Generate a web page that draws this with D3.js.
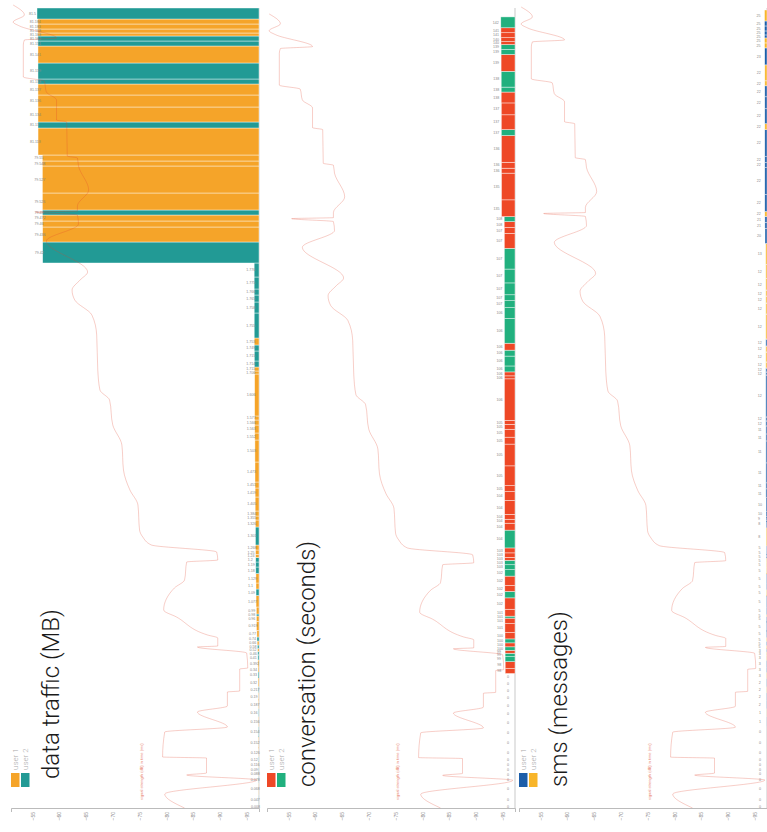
<!DOCTYPE html>
<html>
<head>
<meta charset="utf-8">
<script src="https://cdn.jsdelivr.net/npm/d3@7"></script>
<style>
  html, body { margin: 0; padding: 0; background: #fff; }
  svg { display: block; }
</style>
</head>
<body>
<svg id="chart" width="767" height="832"></svg>
<script>
// Session boundaries (time units from start of log), oldest first.
const sessionTimes = [0,3,13,25,32,36,40.5,46,51.5,60,71,81.5,91.5,99.5,108,115.5,121.5,130,136,141,
  148,153,156.5,159.5,163,167,171,177.5,186.5,192,194,201,212.5,219,225,234.5,241,246,250.5,253.5,
  258,263,281,288,292,297,311,320,326,346,368,375,383,388,392,434,437,441,447,457,463,470,495,506,
  513,519,531,545,566,581,587,593,598,615,642,647,653,680,686,701,713,724,729,745,762,767,772,775,
  779,784,789,800];

// Which user each session belongs to (1 or 2)
const sessionUser = [1,2,1,2,1,2,1,2,1,1,2,1,2,1,1,2,1,2,1,1,2,2,1,2,1,2,1,1,1,2,1,1,2,1,1,2,2,2,1,1,
  1,2,1,1,1,1,1,1,1,1,1,1,1,1,1,1,1,2,2,2,1,2,2,2,2,2,2,2,1,1,1,2,1,1,1,1,1,2,1,1,1,2,2,1,2,2,1,1,1,1,2];

// Cumulative totals reached at each session
const dataMB = [0.008,0.047,0.068,0.078,0.088,0.09,0.116,0.12,0.126,0.152,0.154,0.156,0.16,0.187,0.19,
  0.217,0.32,0.33,0.34,0.392,0.41,0.46,0.52,0.58,0.66,0.74,0.77,0.919,0.96,0.98,0.99,1.077,1.09,1.1,
  1.129,1.18,1.19,1.2,1.24,1.25,1.268,1.301,1.326,1.355,1.384,1.405,1.419,1.451,1.473,1.503,1.552,
  1.563,1.566,1.577,1.606,1.706,1.711,1.714,1.715,1.749,1.753,1.755,1.758,1.765,1.766,1.775,1.776,
  79.42,79.436,79.46,79.472,79.49,79.526,79.527,79.548,79.55,81.118,81.13,81.134,81.136,81.137,
  81.138,81.139,81.141,81.151,81.162,81.163,81.168,81.183,81.184,81.5];

const callSec = [0,0,0,0,0,0,0,0,0,0,0,0,0,0,0,0,0,0,
  98,98,99,99,99,100,100,100,100,101,101,101,101,102,102,102,102,102,103,103,103,103,103,104,104,
  104,104,104,104,105,105,105,105,105,105,105,106,106,106,106,106,106,106,106,106,107,107,107,107,
  107,107,107,108,108,
  135,135,136,136,136,137,137,137,138,138,138,139,139,139,140,140,141,141,142];

const smsCount = [0,0,0,0,0,0,0,0,0,0,0,1,1,2,2,2,2,3,3,3,3,3,3,
  5,5,5,5,5,5,5,5,5,5,5,5,5,5,5,5,5,5,
  8,8,9,10,10,11,11,11,11,11,11,12,12,12,12,12,12,12,12,12,12,12,12,12,12,12,
  13,20,21,21,22,22,22,22,22,22,22,22,22,22,22,22,23,25,25,25,25,25,25,25];

// Signal strength trace (dBm) over the same time axis
const signalTime = [0,14,28,33,35,50,51,76,81,96,102,116,117,139,140,155,161,162,170,173,
  191,198,220,228,246,248,256,263,271,278,303,318,338,363,383,408,418,438,473,493,
  508,518,528,536,567,584,593,596,597,602,618,642,650,652,686,688,708,716,727,731,
  763,768,770,782,786,793,803];
const signalDbm = [-83.4,-79.7,-96.9,-83.8,-87.5,-87.5,-79.3,-79.7,-91.4,-85.8,-91.4,-91.4,-93.7,-93.7,-95.2,-95.0,-85.8,-89.6,-89.6,-87.7,
  -81.9,-79.5,-81.5,-83.4,-83.8,-89.6,-89.4,-77.2,-75.6,-75.0,-74.7,-73.2,-72.0,-71.7,-70.0,-69.4,-67.6,-67.2,-67.0,-66.1,
  -62.9,-62.4,-63.9,-65.3,-57.6,-63.6,-63.4,-55.6,-63.4,-63.4,-65.5,-63.6,-63.4,-61.5,-61.4,-59.5,-59.5,-57.6,-57.2,-53.3,
  -53.3,-53.5,-59.5,-52.6,-51.4,-53.5,-51.4];

const dbmTicks = [-55,-60,-65,-70,-75,-80,-85,-90,-95];
const panelTitles = ["data traffic (MB)", "conversation (seconds)", "sms (messages)"];
const userLabels = ["user 1", "user 2"];
const userColors = [["#f5a429", "#229a95"], ["#ee4826", "#21b07e"], ["#1c5ea9", "#f8b52a"]];
const panelValues = [dataMB, callSec, smsCount];

// layout
const panelX = [0, 256, 508];
const timeMax = [800, 809, 802];
const valueMax = [81.5, 2220, 2220];
const titleY = [779, 787, 787];
const axisY = 808, plotTop = 8, baseX = 259;

const svg = d3.select("#chart");

const sessions = sessionUser.map((u, i) => ({ t0: sessionTimes[i], t1: sessionTimes[i + 1], user: u }));

panelTitles.forEach((title, p) => {
  const g = svg.append("g").attr("transform", `translate(${panelX[p]},0)`);
  const y = d3.scaleLinear().domain([0, timeMax[p]]).range([axisY, plotTop]);
  const sx = d3.scaleLinear().domain([-51, -97.3]).range([11, baseX]);
  const w = d3.scaleLinear().domain([0, valueMax[p]]).range([0, 222]);
  const vals = panelValues[p];

  // time baseline
  g.append("line").attr("x1", baseX).attr("x2", baseX)
    .attr("y1", plotTop).attr("y2", axisY)
    .attr("stroke", "#bbb").attr("stroke-width", 0.8);

  // session bars
  g.append("g").selectAll("rect").data(sessions).join("rect")
    .attr("x", (d, i) => baseX - w(vals[i]))
    .attr("width", (d, i) => w(vals[i]))
    .attr("y", d => y(d.t1))
    .attr("height", d => y(d.t0) - y(d.t1))
    .attr("fill", d => userColors[p][d.user - 1])
    .attr("stroke", "#fff").attr("stroke-opacity", 0.7).attr("stroke-width", 0.6);

  // value labels
  g.append("g").selectAll("text").data(sessions).join("text")
    .attr("x", (d, i) => baseX - w(vals[i]) - 8)
    .attr("y", d => (y(d.t0) + y(d.t1)) / 2)
    .attr("dy", "0.35em")
    .attr("font-family", "Liberation Sans, Arial, sans-serif")
    .attr("font-size", 3.6)
    .attr("fill", "#888")
    .text((d, i) => vals[i]);

  // signal strength line
  const line = d3.line()
    .x(i => sx(signalDbm[i]))
    .y(i => y(signalTime[i]))
    .curve(d3.curveMonotoneY);
  g.append("path").datum(d3.range(signalTime.length))
    .attr("d", line)
    .attr("fill", "none")
    .attr("stroke", "#e0402a")
    .attr("stroke-opacity", 0.33)
    .attr("stroke-width", 0.8);

  // signal axis
  const ax = g.append("g").attr("transform", `translate(0,${axisY})`)
    .call(d3.axisBottom(sx).tickValues(dbmTicks).tickSize(0).tickSizeOuter(4).tickPadding(4));
  ax.select(".domain").attr("stroke", "#aaa").attr("stroke-width", 0.8);
  ax.selectAll(".tick text")
    .attr("font-family", "Liberation Sans, Arial, sans-serif")
    .attr("font-size", 5)
    .attr("fill", "#888")
    .attr("text-anchor", "end")
    .attr("transform", "rotate(-90)")
    .attr("x", -4).attr("y", 0).attr("dy", "0.35em");

  // axis caption
  g.append("text")
    .attr("transform", `translate(143,800) rotate(-90)`)
    .attr("font-family", "Liberation Sans, Arial, sans-serif")
    .attr("font-size", 4)
    .attr("fill", "#e8806c")
    .text("signal strength (dB) in time (ms)");

  // title
  g.append("text")
    .attr("transform", `translate(59,${titleY[p]}) rotate(-90)`)
    .attr("font-family", "Roboto, Liberation Sans, sans-serif")
    .attr("font-weight", 300)
    .attr("font-size", 24)
    .attr("fill", "#1a1a1a")
    .text(title);

  // legend
  userLabels.forEach((lab, k) => {
    const lx = 11 + k * 10;
    g.append("rect").attr("x", lx).attr("y", 773).attr("width", 8.5).attr("height", 14)
      .attr("fill", userColors[p][k]);
    g.append("text")
      .attr("transform", `translate(${lx + 7},770) rotate(-90)`)
      .attr("font-family", "Roboto, Liberation Sans, sans-serif")
      .attr("font-weight", 300)
      .attr("font-size", 8)
      .attr("fill", "#aaa")
      .text(lab);
  });
});
</script>
</body>
</html>
